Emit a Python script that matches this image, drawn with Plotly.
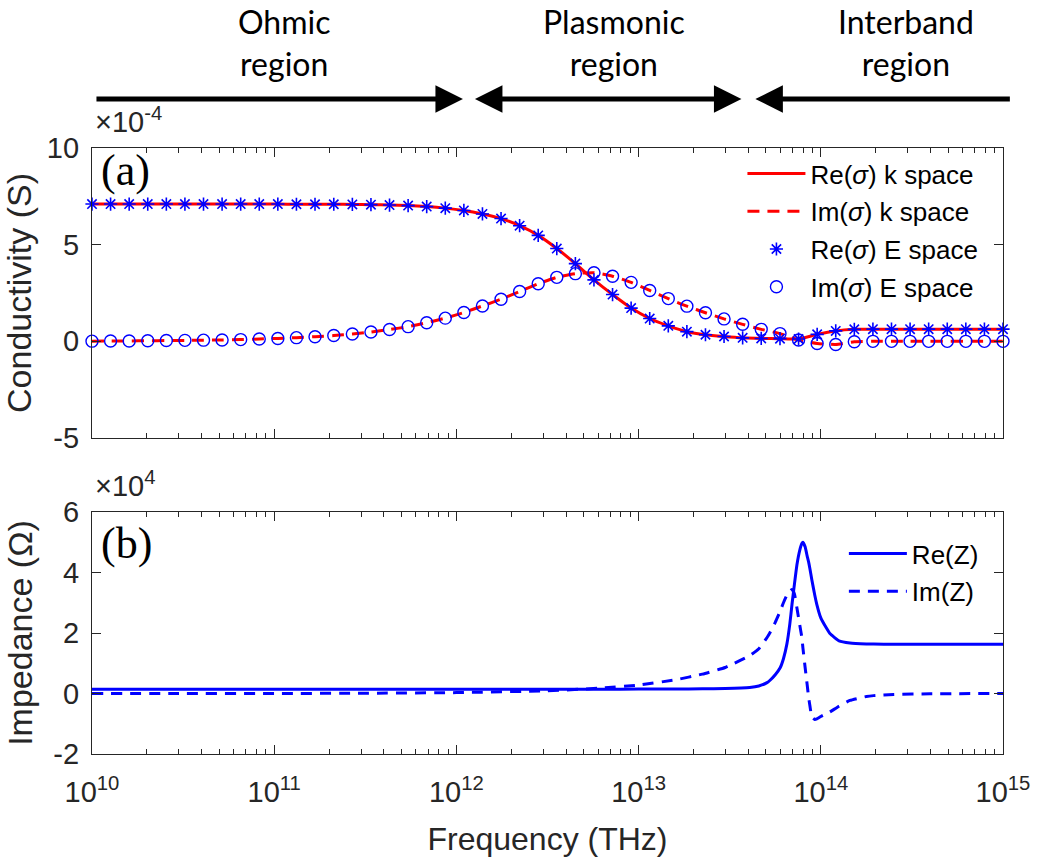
import plotly.graph_objects as go

FONT = "Liberation Sans, Arial, sans-serif"
SERIF = "Liberation Serif, Times New Roman, serif"
LABEL_FONT = "Lato, Open Sans, sans-serif"
INK = "#262626"

# ---- conductivity sweep: log10(frequency) and sigma in units of 1e-4 S ----
sigma_log_f = [10.000, 10.102, 10.204, 10.306, 10.408, 10.510, 10.612, 10.714, 10.816, 10.918,
               11.020, 11.122, 11.224, 11.327, 11.429, 11.531, 11.633, 11.735, 11.837, 11.939,
               12.041, 12.143, 12.245, 12.347, 12.449, 12.551, 12.653, 12.755, 12.857, 12.959,
               13.061, 13.163, 13.265, 13.367, 13.469, 13.571, 13.673, 13.776, 13.878, 13.980,
               14.082, 14.184, 14.286, 14.388, 14.490, 14.592, 14.694, 14.796, 14.898, 15.000]
re_sigma = [7.10, 7.10, 7.10, 7.10, 7.10, 7.10, 7.10, 7.10, 7.10, 7.10,
            7.10, 7.09, 7.09, 7.09, 7.08, 7.07, 7.05, 7.02, 6.97, 6.89,
            6.77, 6.59, 6.35, 5.98, 5.48, 4.80, 4.02, 3.18, 2.42, 1.72,
            1.18, 0.80, 0.50, 0.34, 0.25, 0.18, 0.15, 0.14, 0.12, 0.36,
            0.54, 0.62, 0.63, 0.63, 0.63, 0.63, 0.63, 0.63, 0.63, 0.63]
im_sigma = [0.01, 0.02, 0.02, 0.03, 0.04, 0.05, 0.06, 0.07, 0.09, 0.12,
            0.15, 0.19, 0.24, 0.30, 0.38, 0.48, 0.61, 0.76, 0.96, 1.20,
            1.49, 1.83, 2.18, 2.58, 2.98, 3.31, 3.50, 3.55, 3.37, 3.05,
            2.63, 2.21, 1.82, 1.48, 1.16, 0.88, 0.62, 0.40, 0.07, -0.11,
            -0.16, -0.02, 0.00, 0.00, 0.00, 0.00, 0.00, 0.00, 0.00, 0.00]

# ---- impedance sweep: log10(frequency) and Z in units of 1e4 Ohm ----
z_log_f = [10.0, 10.5, 11.0, 11.5, 12.0, 12.5, 12.8, 13.0, 13.2, 13.35,
           13.475, 13.61, 13.66, 13.705, 13.72, 13.75, 13.777, 13.795, 13.814, 13.83,
           13.842, 13.855, 13.869, 13.885, 13.896, 13.902, 13.914, 13.925, 13.933, 13.94,
           13.951, 13.967, 13.978, 14.0, 14.03, 14.05, 14.1, 14.16, 14.25, 14.29,
           14.4, 14.6, 15.0]
re_z = [0.14, 0.14, 0.14, 0.14, 0.14, 0.14, 0.14, 0.145, 0.15, 0.155,
        0.165, 0.20, 0.25, 0.36, 0.43, 0.62, 0.85, 1.15, 1.64, 2.30,
        2.95, 3.60, 4.26, 4.75, 4.96, 5.00, 4.85, 4.55, 4.35, 4.13,
        3.75, 3.25, 2.95, 2.50, 2.17, 1.98, 1.74, 1.67, 1.64, 1.635,
        1.63, 1.63, 1.63]
im_z = [0.00, 0.00, 0.00, 0.01, 0.03, 0.09, 0.18, 0.28, 0.45, 0.64,
        0.86, 1.25, 1.48, 1.85, 2.00, 2.35, 2.72, 3.00, 3.25, 3.38,
        3.44, 3.30, 2.83, 2.25, 1.85, 1.50, 0.86, 0.30, -0.12, -0.40,
        -0.78, -0.86, -0.84, -0.76, -0.67, -0.61, -0.42, -0.23, -0.10, -0.07,
        -0.03, -0.01, 0.00]

# axis ticks
decades = [10, 11, 12, 13, 14, 15]
major_x = [10.0 ** d for d in decades]
major_x_text = ["10<sup>%d</sup>" % d for d in decades]
minor_x = [k * 10.0 ** d for d in decades[:-1] for k in range(2, 10)]
sigma_ticks = [-5, 0, 5, 10]
z_ticks = [-2, 0, 2, 4, 6]

# region banner above the plots
region_names = ["Ohmic<br>region", "Plasmonic<br>region", "Interband<br>region"]

f_sigma = [10.0 ** v for v in sigma_log_f]
f_z = [10.0 ** v for v in z_log_f]

W, H = 1042, 867
M_L, M_R, M_T, M_B = 92, 34, 148, 113
PH = H - M_T - M_B
PW = W - M_L - M_R


def px(x):
    return (x - M_L) / PW


def py(y):
    return (H - M_B - y) / PH


top_dom = [py(438), 1.0]
bot_dom = [0.0, py(512)]

fig = go.Figure()

fig.add_trace(go.Scatter(
    x=f_sigma, y=re_sigma, mode="lines", name="Re(<i>σ</i>) k space",
    line=dict(color="#ff0000", width=3, shape="spline", smoothing=0.5),
    xaxis="x", yaxis="y", legend="legend", legendgroup="a"))
fig.add_trace(go.Scatter(
    x=f_sigma, y=im_sigma, mode="lines", name="Im(<i>σ</i>) k space",
    line=dict(color="#ff0000", width=3, dash="12px,8px", shape="spline", smoothing=0.5),
    xaxis="x", yaxis="y", legend="legend", legendgroup="b"))
fig.add_trace(go.Scatter(
    x=f_sigma, y=re_sigma, mode="markers", name="Re(<i>σ</i>) E space",
    marker=dict(symbol="asterisk-open", size=11, color="#0000ff",
                line=dict(color="#0000ff", width=1.6)),
    cliponaxis=False, xaxis="x", yaxis="y", legend="legend", legendgroup="c"))
fig.add_trace(go.Scatter(
    x=f_sigma, y=im_sigma, mode="markers", name="Im(<i>σ</i>) E space",
    marker=dict(symbol="circle-open", size=12, color="#0000ff",
                line=dict(color="#0000ff", width=1.4)),
    cliponaxis=False, xaxis="x", yaxis="y", legend="legend", legendgroup="d"))

fig.add_trace(go.Scatter(
    x=f_z, y=re_z, mode="lines", name="Re(Z)",
    line=dict(color="#0000ff", width=3, shape="spline", smoothing=0.4),
    xaxis="x2", yaxis="y2", legend="legend2", legendgroup="e"))
fig.add_trace(go.Scatter(
    x=f_z, y=im_z, mode="lines", name="Im(Z)",
    line=dict(color="#0000ff", width=3, dash="11px,8px", shape="spline", smoothing=0.4),
    xaxis="x2", yaxis="y2", legend="legend2", legendgroup="f"))

common_x = dict(
    type="log", range=[10, 15], showline=True, linecolor=INK, linewidth=1.3,
    mirror="ticks", ticks="inside", ticklen=9, tickwidth=1.2, tickcolor=INK,
    tickmode="array", tickvals=major_x, ticktext=major_x_text,
    minor=dict(tickmode="array", tickvals=minor_x, ticks="inside", ticklen=5,
               tickwidth=1, tickcolor=INK),
    showgrid=False, zeroline=False,
    tickfont=dict(family=FONT, size=29, color=INK),
)
common_y = dict(
    showline=True, linecolor=INK, linewidth=1.3, mirror="ticks",
    ticks="inside", ticklen=9, tickwidth=1.2, tickcolor=INK,
    showgrid=False, zeroline=False, tickmode="array",
    tickfont=dict(family=FONT, size=29, color=INK), ticklabelstandoff=6,
)

fig.update_layout(
    width=W, height=H,
    margin=dict(l=M_L, r=M_R, t=M_T, b=M_B),
    paper_bgcolor="white", plot_bgcolor="white",
    xaxis=dict(common_x, anchor="y", showticklabels=False),
    yaxis=dict(common_y, domain=top_dom, anchor="x", range=[-5, 10], tickvals=sigma_ticks,
               ticktext=[str(v) for v in sigma_ticks],
               title=dict(text="Conductivity (S)", standoff=10,
                          font=dict(family=FONT, size=34, color=INK))),
    xaxis2=dict(common_x, anchor="y2", ticklabelstandoff=12,
                title=dict(text="Frequency (THz)", standoff=20,
                           font=dict(family=FONT, size=32, color=INK))),
    yaxis2=dict(common_y, domain=bot_dom, anchor="x2", range=[-2, 6], tickvals=z_ticks,
                ticktext=[str(v) for v in z_ticks],
                title=dict(text="Impedance (Ω)", standoff=10,
                           font=dict(family=FONT, size=34, color=INK))),
    legend=dict(x=px(746), y=py(150), xanchor="left", yanchor="top",
                bgcolor="rgba(0,0,0,0)", borderwidth=0, itemwidth=58,
                tracegroupgap=1, font=dict(family=FONT, size=26, color="black")),
    legend2=dict(x=px(848), y=py(530), xanchor="left", yanchor="top",
                 bgcolor="rgba(0,0,0,0)", borderwidth=0, itemwidth=58,
                 tracegroupgap=1, font=dict(family=FONT, size=26, color="black")),
    showlegend=True,
)

ann = []
# exponent multipliers
ann.append(dict(text="×10<sup>-4</sup>", x=px(93), y=py(140), xref="paper", yref="paper",
                xanchor="left", yanchor="bottom", showarrow=False,
                font=dict(family=FONT, size=29, color=INK)))
ann.append(dict(text="×10<sup>4</sup>", x=px(93), y=py(504), xref="paper", yref="paper",
                xanchor="left", yanchor="bottom", showarrow=False,
                font=dict(family=FONT, size=29, color=INK)))
# panel tags
ann.append(dict(text="(a)", x=px(99), y=py(144), xref="paper", yref="paper",
                xanchor="left", yanchor="top", showarrow=False,
                font=dict(family=SERIF, size=44, color="black")))
ann.append(dict(text="(b)", x=px(99), y=py(517), xref="paper", yref="paper",
                xanchor="left", yanchor="top", showarrow=False,
                font=dict(family=SERIF, size=44, color="black")))
# region names
for name, cx in zip(region_names, [285, 617, 910]):
    ann.append(dict(text=name, x=px(cx), y=py(42), xref="paper", yref="paper",
                    xanchor="center", yanchor="middle", showarrow=False,
                    font=dict(family=LABEL_FONT, size=32, color="black")))
# region arrows
ay_px = 99
arrow_style = dict(xref="paper", yref="paper", axref="pixel", ayref="pixel", text="",
                   showarrow=True, arrowcolor="black", arrowwidth=5, arrowhead=2,
                   arrowsize=1.1, standoff=0, startstandoff=0, ay=0)
ann.append(dict(arrow_style, x=px(465), y=py(ay_px), ax=97 - 465))
ann.append(dict(arrow_style, x=px(745), y=py(ay_px), ax=477 - 745,
                arrowside="end+start", startarrowhead=2, startarrowsize=1.1))
ann.append(dict(arrow_style, x=px(759), y=py(ay_px), ax=1015 - 759))
fig.update_layout(annotations=ann)

fig.write_html("out.html")
